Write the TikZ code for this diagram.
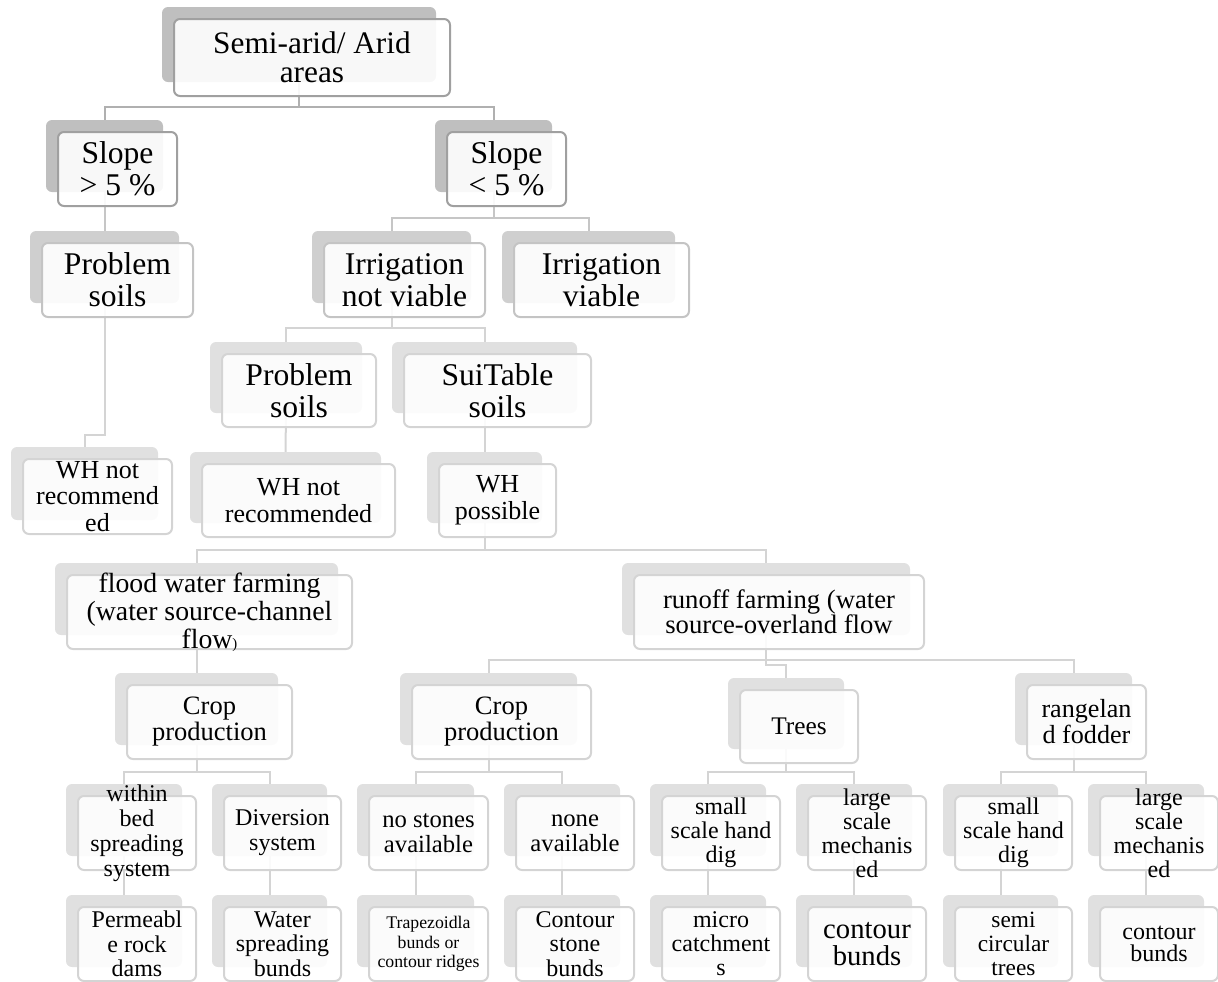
\documentclass[tikz,border=0pt]{standalone}
\usepackage{fontspec}
\setmainfont{Liberation Serif}
\usetikzlibrary{backgrounds}
\definecolor{backA}{HTML}{BFBFBF}
\definecolor{backB}{HTML}{CFCFCF}
\definecolor{backC}{HTML}{E0E0E0}
\definecolor{bordA}{HTML}{A0A0A0}
\definecolor{bordB}{HTML}{C4C4C4}
\definecolor{bordC}{HTML}{D4D4D4}
\definecolor{connA}{HTML}{B0B0B0}
\definecolor{connB}{HTML}{C6C6C6}
\definecolor{connC}{HTML}{D4D4D4}
\newcommand\fz[2]{\fontsize{#1}{#2}\selectfont}
\tikzset{
  backbox/.style={rectangle, rounded corners=4.5pt, inner sep=0pt, outer sep=0pt, draw=none},
  frontbox/.style={rectangle, rounded corners=4.5pt, inner sep=0pt, outer sep=0pt, fill=white, fill opacity=0.9, line width=1.5pt},
  boxtext/.style={align=center, inner sep=0pt, text=black},
  conn/.style={line width=1.5pt},
}
% name, x1, y1, x2, y2 (shadow box, pixels), level, font, text
\newcommand\bx[8]{%
  \node[backbox, fill=back#6, minimum width={(#4-#2)*0.75pt}, minimum height={(#5-#3)*0.75pt}] (#1) at ({(#2+#4)/2},{(#3+#5)/2}) {};
  \node[frontbox, draw=bord#6, minimum width={(#4-#2+2)*0.75pt}, minimum height={(#5-#3+2)*0.75pt}] (#1f) at ({(#2+#4)/2+13},{(#3+#5)/2+13}) {};
  \node[boxtext, font=#7] (#1t) at (#1f.center) {#8};
}
\begin{document}
\begin{tikzpicture}[x=0.75pt, y=-0.75pt]
\useasboundingbox (0,0) rectangle (1218,982);

\bx{root}{162}{7}{436}{82}{A}{\fz{23.5}{21.5}}{Semi-arid/ Arid\\areas}
\bx{sa}{46}{120}{163}{192}{A}{\fz{23.7}{23.8}}{Slope\\> 5 \%}
\bx{sb}{435}{120}{552}{192}{A}{\fz{23.7}{23.8}}{Slope\\< 5 \%}
\bx{psa}{30}{231}{179}{303}{B}{\fz{23.7}{23.8}}{Problem\\soils}
\bx{inv}{312}{231}{471}{303}{B}{\fz{23.7}{23.8}}{Irrigation\\not viable}
\bx{iv}{502}{231}{675}{303}{B}{\fz{23.7}{23.8}}{Irrigation\\viable}
\bx{psb}{210}{342}{362}{413}{C}{\fz{23.7}{23.8}}{Problem\\soils}
\bx{ss}{392}{342}{577}{413}{C}{\fz{23.7}{23.8}}{SuiTable\\soils}
\bx{wha}{11}{447}{158}{520}{C}{\fz{19.5}{20}}{WH not\\recommend\\ed}
\bx{whb}{190}{452}{381}{523}{C}{\fz{19.5}{20}}{WH not\\recommended}
\bx{whp}{427}{452}{542}{523}{C}{\fz{19.5}{20}}{WH\\possible}
\bx{flood}{55}{563}{338}{635}{C}{\fz{20.8}{21}}{flood water farming\\(water source-channel\\flow{\fz{11}{11})}}
\bx{runoff}{622}{563}{910}{635}{C}{\fz{20}{19}}{runoff farming (water\\source-overland flow}
\bx{cpa}{115}{673}{278}{745}{C}{\fz{19.9}{19.5}}{Crop\\production}
\bx{cpb}{400}{673}{577}{745}{C}{\fz{19.9}{19.5}}{Crop\\production}
\bx{trees}{728}{678}{844}{749}{C}{\fz{19}{19}}{Trees}
\bx{rf}{1015}{673}{1132}{745}{C}{\fz{19.6}{19.5}}{rangelan\\d fodder}

\bx{wb}{66}{784}{182}{856}{C}{\fz{18}{18.75}}{within\\bed\\spreading\\system}
\bx{dv}{212}{784}{327}{856}{C}{\fz{18}{18.75}}{Diversion\\system}
\bx{ns}{357}{784}{474}{856}{C}{\fz{18.5}{19}}{no stones\\available}
\bx{na}{504}{784}{620}{856}{C}{\fz{18.5}{19}}{none\\available}
\bx{sha}{650}{784}{766}{856}{C}{\fz{18}{18}}{small\\scale hand\\dig}
\bx{lma}{796}{784}{912}{856}{C}{\fz{18}{18}}{large\\scale\\mechanis\\ed}
\bx{shb}{943}{784}{1058}{856}{C}{\fz{18}{18}}{small\\scale hand\\dig}
\bx{lmb}{1088}{784}{1204}{856}{C}{\fz{18}{18}}{large\\scale\\mechanis\\ed}

\bx{pr}{66}{895}{182}{967}{C}{\fz{18}{18.5}}{Permeabl\\e rock\\dams}
\bx{ws}{212}{895}{327}{967}{C}{\fz{18}{18.5}}{Water\\spreading\\bunds}
\bx{tb}{357}{895}{474}{967}{C}{\fz{13.3}{14.5}}{Trapezoidla\\bunds or\\contour ridges}
\bx{cs}{504}{895}{620}{967}{C}{\fz{18}{18.5}}{Contour\\stone\\bunds}
\bx{mc}{650}{895}{766}{967}{C}{\fz{18}{18}}{micro\\catchment\\s}
\bx{cba}{796}{895}{912}{967}{C}{\fz{21.5}{20.5}}{contour\\bunds}
\bx{sct}{943}{895}{1058}{967}{C}{\fz{17.5}{18}}{semi\\circular\\trees}
\bx{cbb}{1088}{895}{1204}{967}{C}{\fz{18}{17}}{contour\\bunds}

\begin{pgfonlayer}{background}
\draw[conn, draw=connA] (root.south) -- ++(0,25) -| (sa.north);
\draw[conn, draw=connA] (root.south) -- ++(0,25) -| (sb.north);
\draw[conn, draw=connB] (sa.south) -- (psa.north);
\draw[conn, draw=connB] (sb.south) -- ++(0,26) -| (inv.north);
\draw[conn, draw=connB] (sb.south) -- ++(0,26) -| (iv.north);
\draw[conn, draw=connC] (psa.south) -- ++(0,132) -| (wha.north);
\draw[conn, draw=connC] (inv.south) -- ++(0,25) -| (psb.north);
\draw[conn, draw=connC] (inv.south) -- ++(0,25) -| (ss.north);
\draw[conn, draw=connC] (psb.south) -- (whb.north);
\draw[conn, draw=connC] (ss.south) -- (whp.north);
\draw[conn, draw=connC] (whp.south) -- ++(0,27) -| (flood.north);
\draw[conn, draw=connC] (whp.south) -- ++(0,27) -| (runoff.north);
\draw[conn, draw=connC] (flood.south) -- (cpa.north);
\draw[conn, draw=connC] (runoff.south) -- ++(0,25) -| (cpb.north);
\draw[conn, draw=connC] (runoff.south) -- ++(0,25) -| (rf.north);
\draw[conn, draw=connC] (runoff.south) -- ++(0,30) -| (trees.north);
\draw[conn, draw=connC] (cpa.south) -- ++(0,27) -| (wb.north);
\draw[conn, draw=connC] (cpa.south) -- ++(0,27) -| (dv.north);
\draw[conn, draw=connC] (cpb.south) -- ++(0,27) -| (ns.north);
\draw[conn, draw=connC] (cpb.south) -- ++(0,27) -| (na.north);
\draw[conn, draw=connC] (trees.south) -- ++(0,23) -| (sha.north);
\draw[conn, draw=connC] (trees.south) -- ++(0,23) -| (lma.north);
\draw[conn, draw=connC] (rf.south) -- ++(0,27) -| (shb.north);
\draw[conn, draw=connC] (rf.south) -- ++(0,27) -| (lmb.north);
\draw[conn, draw=connC] (wb.south) -- (pr.north);
\draw[conn, draw=connC] (dv.south) -- (ws.north);
\draw[conn, draw=connC] (ns.south) -- (tb.north);
\draw[conn, draw=connC] (na.south) -- (cs.north);
\draw[conn, draw=connC] (sha.south) -- (mc.north);
\draw[conn, draw=connC] (lma.south) -- (cba.north);
\draw[conn, draw=connC] (shb.south) -- (sct.north);
\draw[conn, draw=connC] (lmb.south) -- (cbb.north);
\end{pgfonlayer}
\end{tikzpicture}
\end{document}
